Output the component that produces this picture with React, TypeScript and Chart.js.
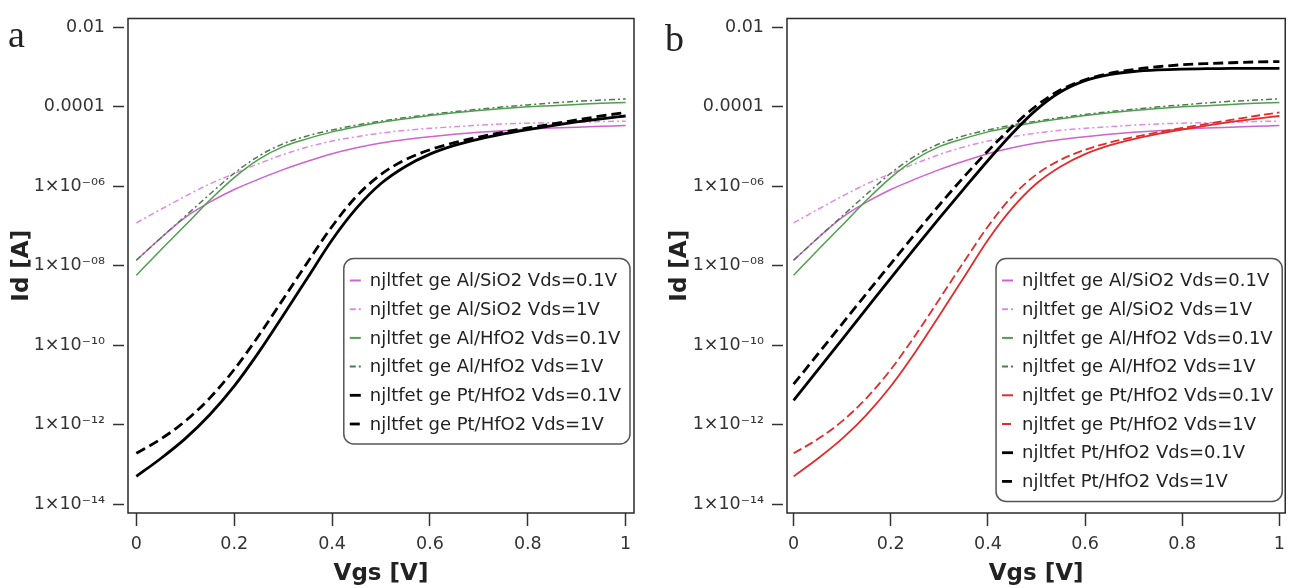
import React, { useEffect, useRef } from "react";
import { Chart, registerables } from "chart.js";
Chart.register(...registerables);

// ---------- data ----------
const vgs = [0, 0.05, 0.1, 0.15, 0.2, 0.25, 0.3, 0.35, 0.4, 0.45, 0.5, 0.55, 0.6, 0.65, 0.7, 0.75, 0.8, 0.85, 0.9, 0.95, 1];

const xTickValues = [0, 0.2, 0.4, 0.6, 0.8, 1];
const xTickLabels = ["0", "0.2", "0.4", "0.6", "0.8", "1"];
const yTickValues = [1e-2, 1e-4, 1e-6, 1e-8, 1e-10, 1e-12, 1e-14];
const yTickLabels = ["0.01", "0.0001", "1×10⁻⁰⁶", "1×10⁻⁰⁸", "1×10⁻¹⁰", "1×10⁻¹²", "1×10⁻¹⁴"];

// log10(Id [A]) at each Vgs
const alSiO2Vds01 = [-7.86, -7.3, -6.78, -6.4, -6.08, -5.82, -5.58, -5.37, -5.18, -5.03, -4.91, -4.82, -4.75, -4.69, -4.64, -4.6, -4.56, -4.53, -4.51, -4.49, -4.47];
const alSiO2Vds1 = [-6.92, -6.58, -6.25, -5.94, -5.68, -5.43, -5.2, -5.01, -4.86, -4.75, -4.66, -4.59, -4.54, -4.5, -4.46, -4.43, -4.41, -4.4, -4.39, -4.37, -4.36];
const alHfO2Vds01 = [-8.24, -7.6, -6.98, -6.35, -5.78, -5.32, -5.0, -4.8, -4.63, -4.5, -4.39, -4.3, -4.22, -4.15, -4.09, -4.04, -4.0, -3.97, -3.94, -3.91, -3.89];
const alHfO2Vds1 = [-7.86, -7.3, -6.75, -6.2, -5.67, -5.24, -4.93, -4.73, -4.58, -4.46, -4.36, -4.27, -4.19, -4.12, -4.06, -4.0, -3.95, -3.9, -3.86, -3.83, -3.8];
const gePtHfO2Vds01 = [-13.3, -12.85, -12.35, -11.75, -11.03, -10.18, -9.25, -8.3, -7.35, -6.55, -5.93, -5.5, -5.19, -4.97, -4.81, -4.68, -4.57, -4.47, -4.38, -4.3, -4.23];
const gePtHfO2Vds1 = [-12.72, -12.36, -11.91, -11.33, -10.61, -9.76, -8.84, -7.91, -7.01, -6.25, -5.7, -5.33, -5.08, -4.9, -4.76, -4.64, -4.53, -4.43, -4.33, -4.23, -4.14];
const ptHfO2Vds01 = [-11.39, -10.62, -9.85, -9.08, -8.31, -7.55, -6.8, -6.07, -5.35, -4.67, -4.07, -3.62, -3.34, -3.19, -3.11, -3.07, -3.05, -3.04, -3.03, -3.03, -3.03];
const ptHfO2Vds1 = [-10.98, -10.22, -9.46, -8.7, -7.95, -7.2, -6.47, -5.77, -5.11, -4.5, -3.97, -3.57, -3.32, -3.16, -3.06, -2.99, -2.94, -2.91, -2.89, -2.87, -2.86];

const seriesLabels = [
  "njltfet ge Al/SiO2 Vds=0.1V",
  "njltfet ge Al/SiO2 Vds=1V",
  "njltfet ge Al/HfO2 Vds=0.1V",
  "njltfet ge Al/HfO2 Vds=1V",
  "njltfet ge Pt/HfO2 Vds=0.1V",
  "njltfet ge Pt/HfO2 Vds=1V",
  "njltfet Pt/HfO2 Vds=0.1V",
  "njltfet Pt/HfO2 Vds=1V",
];
const xTitle = "Vgs [V]";
const yTitle = "Id [A]";
const panelNames = ["a", "b"];

// ---------- styles ----------
const FONT = "'DejaVu Sans', 'Noto Sans', sans-serif";
const st = {
  pinkSolid: { borderColor: "#cf62cf", borderWidth: 1.5, borderDash: [] as number[], order: 4 },
  pinkDash: { borderColor: "#e08be0", borderWidth: 1.5, borderDash: [6, 3, 2, 3], order: 4 },
  greenSolid: { borderColor: "#4f9f4f", borderWidth: 1.5, borderDash: [] as number[], order: 3 },
  greenDash: { borderColor: "#4e7a4e", borderWidth: 1.5, borderDash: [6, 3, 2, 3], order: 3 },
  blackSolid: { borderColor: "#000000", borderWidth: 2.8, borderDash: [] as number[], order: 0 },
  blackDash: { borderColor: "#000000", borderWidth: 2.8, borderDash: [10, 5], order: 0 },
  redSolid: { borderColor: "#e32b2b", borderWidth: 1.8, borderDash: [] as number[], order: 1 },
  redDash: { borderColor: "#e32b2b", borderWidth: 1.8, borderDash: [9, 4], order: 1 },
};

const toPoints = (logs: number[]) => vgs.map((x, i) => ({ x, y: Math.pow(10, logs[i]) }));

const mk = (label: string, logs: number[], s: any) => ({
  label,
  data: toPoints(logs),
  ...s,
  pointRadius: 0,
  fill: false,
  tension: 0.4,
  cubicInterpolationMode: "monotone",
});

const datasetsA = () => [
  mk(seriesLabels[0], alSiO2Vds01, st.pinkSolid),
  mk(seriesLabels[1], alSiO2Vds1, st.pinkDash),
  mk(seriesLabels[2], alHfO2Vds01, st.greenSolid),
  mk(seriesLabels[3], alHfO2Vds1, st.greenDash),
  mk(seriesLabels[4], gePtHfO2Vds01, st.blackSolid),
  mk(seriesLabels[5], gePtHfO2Vds1, st.blackDash),
];
const datasetsB = () => [
  mk(seriesLabels[0], alSiO2Vds01, st.pinkSolid),
  mk(seriesLabels[1], alSiO2Vds1, st.pinkDash),
  mk(seriesLabels[2], alHfO2Vds01, st.greenSolid),
  mk(seriesLabels[3], alHfO2Vds1, st.greenDash),
  mk(seriesLabels[4], gePtHfO2Vds01, st.redSolid),
  mk(seriesLabels[5], gePtHfO2Vds1, st.redDash),
  mk(seriesLabels[6], ptHfO2Vds01, st.blackSolid),
  mk(seriesLabels[7], ptHfO2Vds1, st.blackDash),
];

// ---------- plugins ----------
const framePlugin = {
  id: "frame",
  afterDatasetsDraw(chart: any) {
    const { ctx, chartArea: a } = chart;
    ctx.save();
    ctx.strokeStyle = "#2a2a2a";
    ctx.lineWidth = 1.5;
    ctx.strokeRect(a.left, a.top, a.right - a.left, a.bottom - a.top);
    ctx.restore();
  },
};

const legendPlugin = {
  id: "boxLegend",
  afterDatasetsDraw(chart: any, _args: any, opts: any) {
    const { ctx, chartArea: a } = chart;
    const ds = chart.data.datasets;
    ctx.save();
    ctx.font = `18px ${FONT}`;
    const maxW = Math.max(...ds.map((d: any) => ctx.measureText(d.label).width));
    const rowH = 28.7;
    const w = 26 + maxW + 9;
    const h = 42 + rowH * (ds.length - 1);
    const x = a.right - opts.rightGap - w;
    const y = a.top + 240;
    ctx.beginPath();
    ctx.roundRect(x, y, w, h, 10);
    ctx.fillStyle = "#ffffff";
    ctx.fill();
    ctx.strokeStyle = "#555";
    ctx.lineWidth = 1.5;
    ctx.stroke();
    ds.forEach((d: any, i: number) => {
      const cy = y + 22 + i * rowH;
      ctx.beginPath();
      ctx.strokeStyle = d.borderColor;
      ctx.lineWidth = Math.max(2, d.borderWidth);
      ctx.setLineDash(d.borderDash || []);
      ctx.moveTo(x + 6, cy);
      ctx.lineTo(x + 17, cy);
      ctx.stroke();
      ctx.setLineDash([]);
      ctx.fillStyle = "#222";
      ctx.textBaseline = "middle";
      ctx.textAlign = "left";
      ctx.fillText(d.label, x + 26, cy + 1);
    });
    ctx.restore();
  },
};

const letterPlugin = {
  id: "panelLetter",
  afterDraw(chart: any, _args: any, opts: any) {
    const { ctx } = chart;
    ctx.save();
    ctx.font = "38px 'Liberation Serif', 'DejaVu Serif', serif";
    ctx.fillStyle = "#222";
    ctx.textBaseline = "alphabetic";
    ctx.fillText(opts.text, opts.x, opts.y);
    ctx.restore();
  },
};

// ---------- chart config ----------
function makeConfig(datasets: any[], p: any) {
  return {
    type: "line",
    data: { datasets },
    plugins: [framePlugin, legendPlugin, letterPlugin],
    options: {
      animation: false,
      responsive: false,
      events: [],
      layout: { padding: { top: 13, right: p.padRight, left: 0, bottom: 0 } },
      plugins: {
        legend: { display: false },
        tooltip: { enabled: false },
        boxLegend: { rightGap: p.legendGap },
        panelLetter: { text: p.letter, x: p.letterX, y: p.letterY },
      },
      scales: {
        x: {
          type: "linear",
          min: p.xMin,
          max: p.xMax,
          afterBuildTicks: (s: any) => {
            s.ticks = xTickValues.map((v) => ({ value: v }));
          },
          afterFit: (s: any) => {
            s.height = 75;
          },
          ticks: {
            autoSkip: false,
            maxRotation: 0,
            padding: 8,
            color: "#333",
            font: { family: FONT, size: 17.5 },
            callback: (_v: any, i: number) => xTickLabels[i],
          },
          grid: { drawOnChartArea: false, drawTicks: true, tickLength: 13, tickColor: "#333", tickWidth: 1.5 },
          border: { display: false },
          title: {
            display: true,
            text: xTitle,
            color: "#222",
            font: { family: FONT, size: 23, weight: "bold" },
            padding: { top: 0, bottom: 0 },
          },
        },
        y: {
          type: "logarithmic",
          min: Math.pow(10, -14.2),
          max: Math.pow(10, -1.776),
          afterBuildTicks: (s: any) => {
            s.ticks = yTickValues.map((v) => ({ value: v }));
          },
          afterFit: (s: any) => {
            s.width = p.yAxisWidth;
          },
          ticks: {
            autoSkip: false,
            padding: 8,
            color: "#333",
            font: { family: FONT, size: 17.5 },
            callback: (_v: any, i: number) => yTickLabels[i],
          },
          grid: {
            drawOnChartArea: false,
            drawTicks: true,
            tickLength: 15,
            tickBorderDash: [11, 40],
            tickColor: "#333",
            tickWidth: 1.5,
          },
          border: { display: false },
          title: {
            display: true,
            text: yTitle,
            color: "#222",
            font: { family: FONT, size: 23, weight: "bold" },
            padding: { top: p.yTitlePad, bottom: 0 },
          },
        },
      },
    },
  };
}

function Panel(props: { datasets: () => any[]; p: any; left: number; width: number }) {
  const ref = useRef<HTMLCanvasElement | null>(null);
  useEffect(() => {
    if (!ref.current) return;
    const chart = new Chart(ref.current, makeConfig(props.datasets(), props.p) as any);
    return () => chart.destroy();
  }, []);
  return (
    <canvas
      ref={ref}
      width={props.width}
      height={588}
      style={{ position: "absolute", left: props.left, top: 0, width: props.width, height: 588 }}
    />
  );
}

export default function App() {
  const pA = {
    letter: panelNames[0], letterX: 8, letterY: 47,
    xMin: -0.017, xMax: 1.017, yAxisWidth: 128, padRight: 11, legendGap: 4, yTitlePad: 8,
  };
  const pB = {
    letter: panelNames[1], letterX: 20, letterY: 51,
    xMin: -0.0136, xMax: 1.012, yAxisWidth: 142, padRight: 2, legendGap: 3, yTitlePad: 21,
  };
  return (
    <div style={{ position: "absolute", left: 0, top: 0, width: 1293, height: 588, background: "#fff", overflow: "hidden" }}>
      <Panel datasets={datasetsA} p={pA} left={0} width={645} />
      <Panel datasets={datasetsB} p={pB} left={645} width={648} />
    </div>
  );
}
